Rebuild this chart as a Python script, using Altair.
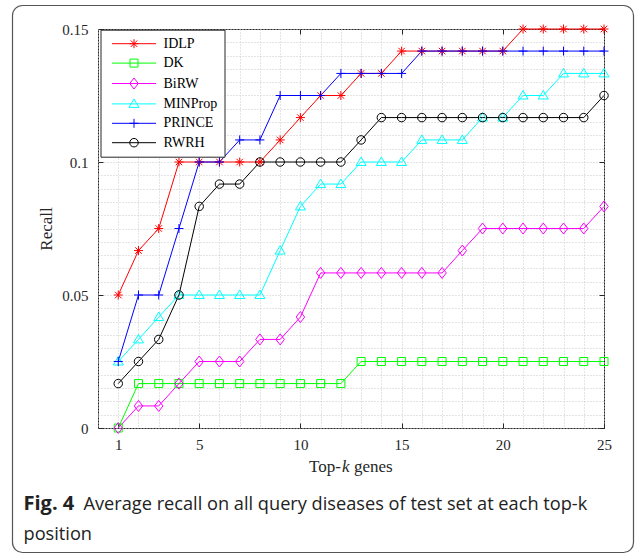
import altair as alt
import pandas as pd

# ---------------- data ----------------
k = list(range(1, 26))
series = ["IDLP", "DK", "BiRW", "MINProp", "PRINCE", "RWRH"]
colors = ["#ff0000", "#00ff00", "#ff00ff", "#00ffff", "#0000ff", "#000000"]

idlp = [0.05, 0.0667, 0.075, 0.1, 0.1, 0.1, 0.1, 0.1, 0.1083, 0.1167, 0.125, 0.125,
        0.1333, 0.1333, 0.1417, 0.1417, 0.1417, 0.1417, 0.1417, 0.1417, 0.15, 0.15,
        0.15, 0.15, 0.15]
dk = [0.0, 0.0167, 0.0167, 0.0167, 0.0167, 0.0167, 0.0167, 0.0167, 0.0167, 0.0167,
      0.0167, 0.0167, 0.025, 0.025, 0.025, 0.025, 0.025, 0.025, 0.025, 0.025, 0.025,
      0.025, 0.025, 0.025, 0.025]
birw = [0.0, 0.0083, 0.0083, 0.0167, 0.025, 0.025, 0.025, 0.0333, 0.0333, 0.0417,
        0.0583, 0.0583, 0.0583, 0.0583, 0.0583, 0.0583, 0.0583, 0.0667, 0.075, 0.075,
        0.075, 0.075, 0.075, 0.075, 0.0833]
minprop = [0.025, 0.0333, 0.0417, 0.05, 0.05, 0.05, 0.05, 0.05, 0.0667, 0.0833,
           0.0917, 0.0917, 0.1, 0.1, 0.1, 0.1083, 0.1083, 0.1083, 0.1167, 0.1167,
           0.125, 0.125, 0.1333, 0.1333, 0.1333]
prince = [0.025, 0.05, 0.05, 0.075, 0.1, 0.1, 0.1083, 0.1083, 0.125, 0.125, 0.125,
          0.1333, 0.1333, 0.1333, 0.1333, 0.1417, 0.1417, 0.1417, 0.1417, 0.1417,
          0.1417, 0.1417, 0.1417, 0.1417, 0.1417]
rwrh = [0.0167, 0.025, 0.0333, 0.05, 0.0833, 0.0917, 0.0917, 0.1, 0.1, 0.1, 0.1, 0.1,
        0.1083, 0.1167, 0.1167, 0.1167, 0.1167, 0.1167, 0.1167, 0.1167, 0.1167,
        0.1167, 0.1167, 0.1167, 0.125]

x_ticks = [1, 5, 10, 15, 20, 25]
y_ticks = [0, 0.05, 0.1, 0.15]
x_grid = list(range(0, 26))
y_grid = [round(i * 0.005, 3) for i in range(31)]

x_title = ["Top-", "k", "genes"]
caption_bold = "Fig. 4"
caption_rest = "Average recall on all query diseases of test set at each top-k"
caption_line2 = "position"

# ---------------- marker shapes (unit box, 1 unit = 5 px) ----------------
markers = [
    "M-0.9,0H0.9M0,-0.9V0.9M-0.65,-0.65L0.65,0.65M-0.65,0.65L0.65,-0.65",  # asterisk
    "M-0.8,-0.8H0.8V0.8H-0.8Z",                                           # square
    "M0,-1.1L0.85,0L0,1.1L-0.85,0Z",                                      # diamond
    "M0,-1L1,0.7H-1Z",                                                    # triangle
    "M-0.9,0H0.9M0,-0.9V0.9",                                             # plus
    "M0.85,0A0.85,0.85,0,1,1,-0.85,0A0.85,0.85,0,1,1,0.85,0Z",            # circle
]
legend_shapes = ["M-4.4,0H4.4" + m for m in markers]

rows = []
for name, vals in zip(series, [idlp, dk, birw, minprop, prince, rwrh]):
    for kk, v in zip(k, vals):
        rows.append({"series": name, "k": kk, "v": v})
df = pd.DataFrame(rows)

SERIF = "Liberation Serif"
SANS = "Open Sans"
AX = "#262626"
GRID = "#c8c8c8"

xs = alt.Scale(domain=[0, 25], nice=False, zero=False)
ys = alt.Scale(domain=[0, 0.15], nice=False, zero=False)

x_major = "indexof([1,5,10,15,20,25], datum.value) >= 0"
y_major = "abs(datum.value*20 - round(datum.value*20)) < 1e-6"

x_axis = alt.Axis(
    values=x_grid, grid=True, gridDash=[1, 2], gridColor=GRID, gridWidth=1,
    domain=False, ticks=True, tickSize=5, tickColor=AX, offset=-5,
    tickOpacity={"condition": {"test": x_major, "value": 1}, "value": 0},
    labelExpr=x_major + " ? datum.label : ''", labelOverlap=False, labelFlush=False,
    labelFont=SERIF, labelFontSize=15, labelColor=AX, labelPadding=9, title=None,
)
y_axis = alt.Axis(
    values=y_grid, grid=True, gridDash=[1, 2], gridColor=GRID, gridWidth=1,
    domain=False, ticks=True, tickSize=5, tickColor=AX, offset=-5, format="~g",
    tickOpacity={"condition": {"test": y_major, "value": 1}, "value": 0},
    labelExpr=y_major + " ? datum.label : ''", labelOverlap=False, labelFlush=False,
    labelFont=SERIF, labelFontSize=15, labelColor=AX, labelPadding=10,
    title="Recall", titleFont=SERIF, titleFontSize=17, titleFontWeight="normal",
    titleColor=AX, titlePadding=6,
)

base = alt.Chart(df)

lines = base.mark_line(strokeWidth=1).encode(
    x=alt.X("k:Q", scale=xs, axis=x_axis),
    y=alt.Y("v:Q", scale=ys, axis=y_axis),
    color=alt.Color("series:N", scale=alt.Scale(domain=series, range=colors), legend=None),
    order=alt.Order("k:Q"),
)

points = base.mark_point(filled=False, strokeWidth=1, size=100, opacity=1).encode(
    x=alt.X("k:Q", scale=xs, axis=None),
    y=alt.Y("v:Q", scale=ys, axis=None),
    color=alt.Color("series:N", scale=alt.Scale(domain=series, range=colors), legend=None),
    shape=alt.Shape("series:N", scale=alt.Scale(domain=series, range=markers), legend=None),
)

leg_props = dict(
    title=None, orient="none", legendX=2.5, legendY=0.7, direction="vertical",
    labelFont=SERIF, labelFontSize=14, labelColor="#000000",
    symbolSize=100, symbolStrokeWidth=1, symbolOffset=19.5, labelOffset=22.5,
    padding=7, rowPadding=5.4, strokeColor=AX, fillColor="#ffffff", cornerRadius=0,
)

legend_layer = base.transform_filter("false").mark_point(
    filled=False, strokeWidth=1, size=100, opacity=1
).encode(
    x=alt.X("k:Q", scale=xs, axis=alt.Axis(
        orient="top", values=x_ticks, labels=False, ticks=True, tickSize=5,
        tickColor=AX, offset=-5, domain=False, grid=False, title=None)),
    y=alt.Y("v:Q", scale=ys, axis=alt.Axis(
        orient="right", values=y_ticks, labels=False, ticks=True, tickSize=5,
        tickColor=AX, offset=-5, domain=False, grid=False, title=None)),
    color=alt.Color("series:N", scale=alt.Scale(domain=series, range=colors),
                    legend=alt.Legend(**leg_props)),
    shape=alt.Shape("series:N", scale=alt.Scale(domain=series, range=legend_shapes),
                    legend=alt.Legend(**leg_props)),
)

one = alt.Chart(pd.DataFrame({"t": [""]}))

frame = one.mark_rect(
    fill="#ffffff", fillOpacity=0, stroke="#555555", strokeWidth=1.2, cornerRadius=10
).encode(
    x=alt.value(-85.5), x2=alt.value(535.5), y=alt.value(-23.5), y2=alt.value(523.5)
)

title_parts = []
tx = 211.0
for part, style, w in zip(x_title, ["normal", "italic", "normal"], [33.0, 11.9, 43.0]):
    title_parts.append(
        one.mark_text(font=SERIF, fontSize=17, fontStyle=style, color=AX,
                      align="left", baseline="alphabetic").encode(
            x=alt.value(tx), y=alt.value(443), text=alt.value(part))
    )
    tx += w

cap1 = one.mark_text(font=SANS, fontSize=20, fontWeight="bold", color="#222222",
                     align="left", baseline="alphabetic").encode(
    x=alt.value(-74.5), y=alt.value(481.4), text=alt.value(caption_bold))
cap2 = one.mark_text(font=SANS, fontSize=18.2, color="#222222", dx=60,
                     align="left", baseline="alphabetic").encode(
    x=alt.value(-74.5), y=alt.value(481.4), text=alt.value(caption_rest))
cap3 = one.mark_text(font=SANS, fontSize=18.2, color="#222222",
                     align="left", baseline="alphabetic").encode(
    x=alt.value(-74.5), y=alt.value(510.5), text=alt.value(caption_line2))

chart = alt.layer(
    frame, lines, points, legend_layer, *title_parts, cap1, cap2, cap3
).resolve_scale(
    color="independent", shape="independent"
).resolve_axis(
    x="independent", y="independent"
).properties(
    width=506, height=399,
    autosize=alt.AutoSizeParams(type="none"),
    padding={"left": 98, "top": 29, "right": 31, "bottom": 127},
    background="#ffffff",
).configure_view(
    stroke=AX, strokeWidth=1
)

chart.save("out.html", embed_options={"renderer": "svg", "actions": False})
